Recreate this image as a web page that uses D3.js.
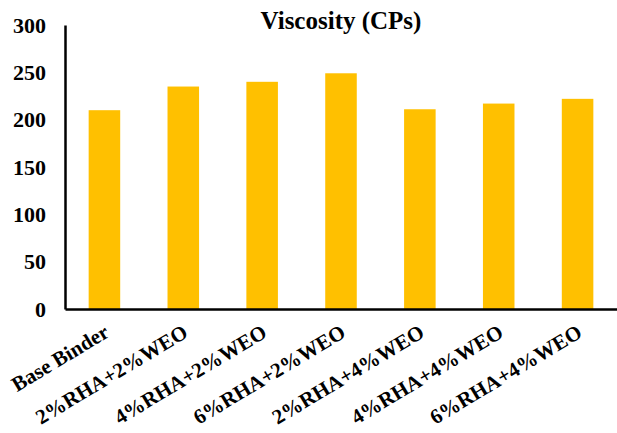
<!DOCTYPE html>
<html><head><meta charset="utf-8">
<script src="https://cdn.jsdelivr.net/npm/d3@7"></script>
<style>body{margin:0;background:#fff}svg{display:block}</style>
</head><body>
<script>
const categories = ["Base Binder","2%RHA+2%WEO","4%RHA+2%WEO","6%RHA+2%WEO","2%RHA+4%WEO","4%RHA+4%WEO","6%RHA+4%WEO"];
const values = [210, 235, 240, 249, 211, 217, 222];
const yTicks = [0, 50, 100, 150, 200, 250, 300];
const title = "Viscosity (CPs)";

const W = 617, H = 433;
const m = {left: 65, right: 0, top: 25, bottom: 124};
const svg = d3.select("body").append("svg").attr("width", W).attr("height", H);
const x = d3.scaleBand().domain(categories).range([m.left, W - m.right]).paddingInner(0.6).paddingOuter(0.3);
const y = d3.scaleLinear().domain([0, 300]).range([H - m.bottom, m.top]);
const font = "'Liberation Serif','Times New Roman',serif";

svg.append("g").selectAll("rect").data(values).join("rect")
  .attr("x", (d, i) => x(categories[i]))
  .attr("width", x.bandwidth())
  .attr("y", d => y(d))
  .attr("height", d => y(0) - y(d))
  .attr("fill", "#FFC000");

const ya = svg.append("g").attr("transform", `translate(${m.left},0)`)
  .call(d3.axisLeft(y).tickValues(yTicks).tickSize(0).tickPadding(19));
ya.select(".domain").attr("stroke", "#000").attr("stroke-width", 2.5);
ya.selectAll("text").attr("font-family", font).attr("font-weight", "bold").attr("font-size", 22).attr("fill", "#000");

const xa = svg.append("g").attr("transform", `translate(0,${y(0)})`)
  .call(d3.axisBottom(x).tickSize(0).tickPadding(0));
xa.select(".domain").attr("stroke", "#000").attr("stroke-width", 2.5);
xa.selectAll("text")
  .attr("font-family", font).attr("font-weight", "bold").attr("font-size", 21).attr("fill", "#000")
  .attr("text-anchor", "end").attr("dy", 0)
  .attr("transform", "translate(6,27) rotate(-31)");

svg.append("text").attr("x", 341).attr("y", 29).attr("text-anchor", "middle")
  .attr("font-family", font).attr("font-weight", "bold").attr("font-size", 25).text(title);
</script>
</body></html>
